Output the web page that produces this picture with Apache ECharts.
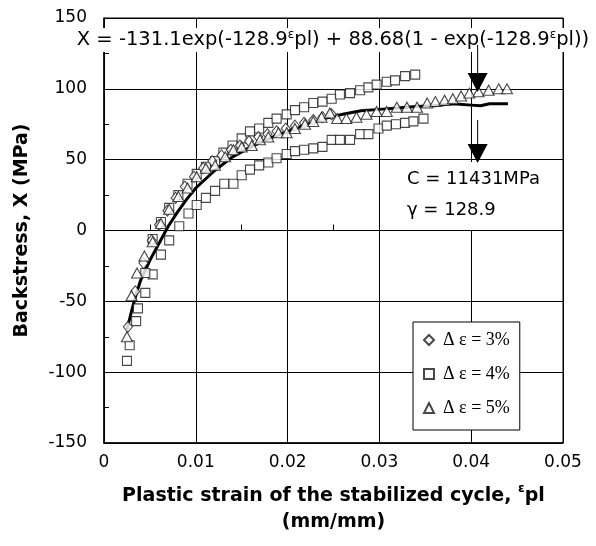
<!DOCTYPE html>
<html>
<head>
<meta charset="utf-8">
<script src="https://cdn.jsdelivr.net/npm/echarts@6/dist/echarts.min.js"></script>
<style>
  html, body { margin: 0; padding: 0; background: #fff; }
  #chart { width: 596px; height: 546px; }
</style>
</head>
<body>
<div id="chart"></div>
<script>
// Axis ticks
const xTicks = [0, 0.01, 0.02, 0.03, 0.04, 0.05];
const yTicks = [-150, -100, -50, 0, 50, 100, 150];

// Δε = 3% (diamonds)
const strain3 = [0.0026, 0.0034, 0.0043, 0.0052, 0.0060, 0.0069, 0.0078, 0.0088, 0.0098, 0.0108, 0.0118, 0.0128, 0.0138, 0.0148, 0.0158, 0.0168, 0.0178, 0.0188, 0.0198, 0.0208, 0.0218, 0.0228, 0.0238, 0.0248];
const stress3 = [-68, -43, -23, -7, 4, 14, 23, 31, 38, 44, 49, 53, 57, 60, 63, 66, 68, 70, 72, 74, 76, 78, 80, 82];

// Δε = 4% (squares) — lower branch followed by upper branch
const strain4 = [0.0025, 0.0028, 0.0035, 0.0037, 0.0045, 0.0053, 0.0062, 0.0071, 0.0082, 0.0092, 0.0101, 0.0111, 0.0121, 0.0131, 0.0141, 0.0150, 0.0159, 0.0169, 0.0179, 0.0188, 0.0199, 0.0208, 0.0218, 0.0228, 0.0238, 0.0248, 0.0257, 0.0268, 0.0279, 0.0288, 0.0299, 0.0308, 0.0318, 0.0328, 0.0337, 0.0348,
                 0.0045, 0.0053, 0.0062, 0.0071, 0.0081, 0.0091, 0.0101, 0.0111, 0.0121, 0.0130, 0.0140, 0.0150, 0.0159, 0.0169, 0.0179, 0.0188, 0.0199, 0.0208, 0.0218, 0.0228, 0.0238, 0.0248, 0.0257, 0.0268, 0.0279, 0.0288, 0.0297, 0.0308, 0.0317, 0.0328, 0.0339];
const stress4 = [-92, -81, -64, -55, -44, -31, -17, -7, 3, 12, 18, 23, 28, 33, 33, 39, 43, 46, 48, 51, 54, 56, 57, 58, 59, 64, 64, 64, 68, 68, 72, 74, 75, 76, 77, 79,
                 -30, -6, 6, 16, 25, 33, 40, 45, 49, 55, 60, 65, 70, 72, 76, 79, 82, 85, 87, 90, 91, 93, 96, 97, 99, 101, 103, 105, 106, 109, 110];

// Δε = 5% (triangles)
const strain5 = [0.0025, 0.0030, 0.0036, 0.0044, 0.0053, 0.0062, 0.0071, 0.0081, 0.0091, 0.0101, 0.0111, 0.0121, 0.0132, 0.0141, 0.0150, 0.0161, 0.0170, 0.0179, 0.0190, 0.0199, 0.0208, 0.0219, 0.0228, 0.0237, 0.0246, 0.0254, 0.0264, 0.0275, 0.0286, 0.0297, 0.0308, 0.0319, 0.0330, 0.0341, 0.0352, 0.0361, 0.0371, 0.0380, 0.0389, 0.0398, 0.0408, 0.0419, 0.0430, 0.0439];
const stress5 = [-75, -46, -30, -18, -8, 5, 15, 24, 30, 38, 44, 46, 52, 57, 59, 60, 64, 66, 69, 69, 72, 75, 77, 80, 83, 79, 79, 80, 82, 84, 84, 87, 87, 87, 90, 91, 92, 93, 95, 97, 98, 99, 100, 100];

// Fitted backstress curve
const strainFit = [0.0025, 0.0030, 0.0035, 0.0040, 0.0050, 0.0060, 0.0070, 0.0080, 0.0090, 0.0100, 0.0120, 0.0140, 0.0160, 0.0180, 0.0200, 0.0220, 0.0240, 0.0260, 0.0280, 0.0300, 0.0320, 0.0340, 0.0360, 0.0380, 0.0400, 0.0410, 0.0420, 0.0440];
const stressFit = [-70, -57, -45, -35, -21, -9, 3, 13, 22, 30, 42, 52, 59, 65, 70, 75, 79, 82, 84.5, 85.5, 86.5, 87.5, 88, 89.5, 88.5, 88, 89.5, 89.5];

const seriesNames = ['Δ ε = 3%', 'Δ ε = 4%', 'Δ ε = 5%'];

// Annotation arrows (data units): [x, yStart, yTip]
const arrowX = 0.0407;
const arrowSpans = [[131, 97.8], [78, 47.6]];

const pairs = (xs, ys) => xs.map((x, i) => [x, ys[i]]);
const markerStyle = { color: '#fff', borderColor: '#1a1a1a', borderWidth: 1.1 };
const sans = 'DejaVu Sans, Verdana, sans-serif';

const chart = echarts.init(document.getElementById('chart'));

const option = {
  animation: false,
  backgroundColor: '#fff',
  grid: { left: 104, right: 33, top: 18, bottom: 103, show: true, borderColor: '#000', borderWidth: 1 },
  legend: {
    data: seriesNames,
    orient: 'vertical',
    left: 413, top: 322,
    padding: [9, 10, 13, 10],
    itemGap: 16,
    itemWidth: 10, itemHeight: 10,
    backgroundColor: '#fff',
    borderColor: '#000', borderWidth: 1,
    textStyle: { fontFamily: 'Liberation Serif, serif', fontSize: 18, color: '#000', padding: [0, 0, 0, 4] },
    z: 6
  },
  xAxis: [{
    type: 'value', min: xTicks[0], max: xTicks[xTicks.length - 1], interval: 0.01,
    position: 'bottom',
    axisLine: { onZero: false, lineStyle: { color: '#000', width: 1.5 } },
    axisTick: { show: false },
    splitLine: { show: true, lineStyle: { color: '#000', width: 1 } },
    axisLabel: {
      color: '#000', fontFamily: sans, fontSize: 17, margin: 11,
      formatter: v => (v === 0 ? '0' : v.toFixed(2))
    },
    name: 'Plastic strain of the stabilized cycle, {e|ε}pl\n(mm/mm)',
    nameLocation: 'middle',
    nameGap: 40,
    nameTextStyle: {
      color: '#000', fontFamily: sans, fontSize: 19, fontWeight: 'bold', lineHeight: 26,
      rich: { e: { fontSize: 12, fontWeight: 'bold', fontFamily: sans, verticalAlign: 'top', lineHeight: 26 } }
    }
  }, {
    type: 'value', min: xTicks[0], max: xTicks[xTicks.length - 1], interval: 0.01,
    position: 'bottom',
    axisLine: { onZero: true, lineStyle: { color: '#000', width: 1 } },
    axisTick: { show: false, inside: true },
    minorTick: { show: true, splitNumber: 2, length: 6, lineStyle: { color: '#000', width: 1 } },
    axisLabel: { show: false },
    splitLine: { show: false }
  }],
  yAxis: {
    type: 'value', min: yTicks[0], max: yTicks[yTicks.length - 1], interval: 50,
    axisLine: { lineStyle: { color: '#000', width: 1.5 } },
    axisTick: { show: true, inside: true, length: 5, lineStyle: { color: '#000' } },
    minorTick: { show: true, splitNumber: 2, length: 5, lineStyle: { color: '#000', width: 1 } },
    splitLine: { show: true, lineStyle: { color: '#000', width: 1 } },
    axisLabel: { color: '#000', fontFamily: sans, fontSize: 17, margin: 17 },
    name: 'Backstress, X (MPa)',
    nameLocation: 'middle',
    nameGap: 72,
    nameTextStyle: { color: '#000', fontFamily: sans, fontSize: 19, fontWeight: 'bold' }
  },
  series: [
    {
      name: 'fit', type: 'line', showSymbol: false, symbol: 'none',
      lineStyle: { color: '#000', width: 3 }, data: pairs(strainFit, stressFit), z: 2
    },
    {
      name: seriesNames[1], type: 'scatter', symbol: 'rect', symbolSize: 9,
      itemStyle: markerStyle, data: pairs(strain4, stress4), z: 3
    },
    {
      name: seriesNames[0], type: 'scatter', symbol: 'diamond', symbolSize: [9, 11],
      itemStyle: markerStyle, data: pairs(strain3, stress3), z: 4
    },
    {
      name: seriesNames[2], type: 'scatter', symbol: 'triangle', symbolSize: [11, 10],
      itemStyle: markerStyle, data: pairs(strain5, stress5), z: 4
    }
  ]
};
chart.setOption(option);

// Annotations: equation, material constants and arrows
const eqText = 'X = -131.1exp(-128.9{e|ε}pl) + 88.68(1 - exp(-128.9{e|ε}pl))';
const arrowEls = [];
arrowSpans.forEach(([y0, y1]) => {
  const p0 = chart.convertToPixel({ xAxisIndex: 0, yAxisIndex: 0 }, [arrowX, y0]);
  const p1 = chart.convertToPixel({ xAxisIndex: 0, yAxisIndex: 0 }, [arrowX, y1]);
  const headH = 19, headW = 20;
  arrowEls.push({
    type: 'line', z: 8,
    shape: { x1: p0[0], y1: p0[1], x2: p1[0], y2: p1[1] - headH + 2 },
    style: { stroke: '#000', lineWidth: 1 }
  });
  arrowEls.push({
    type: 'polygon', z: 8,
    shape: { points: [[p1[0] - headW / 2, p1[1] - headH], [p1[0] + headW / 2, p1[1] - headH], [p1[0], p1[1]]] },
    style: { fill: '#000' }
  });
});

chart.setOption({
  graphic: [
    { type: 'rect', z: 1, shape: { x: 70, y: 28, width: 526, height: 24 }, style: { fill: '#fff' } },
    {
      type: 'text', z: 2, x: 333, y: 40,
      style: {
        text: eqText, align: 'center', verticalAlign: 'middle',
        fontFamily: sans, fontSize: 19.5, fill: '#000',
        rich: { e: { fontSize: 12, fontFamily: sans, verticalAlign: 'top', lineHeight: 22 } }
      }
    },
    { type: 'rect', z: 1, shape: { x: 404, y: 162, width: 151, height: 68 }, style: { fill: '#fff' } },
    {
      type: 'text', z: 2, x: 407, y: 179,
      style: { text: 'C = 11431MPa', verticalAlign: 'middle', fontFamily: sans, fontSize: 18, fill: '#000' }
    },
    {
      type: 'text', z: 2, x: 407, y: 210,
      style: { text: 'γ = 128.9', verticalAlign: 'middle', fontFamily: sans, fontSize: 18, fill: '#000' }
    }
  ].concat(arrowEls)
});
</script>
</body>
</html>
